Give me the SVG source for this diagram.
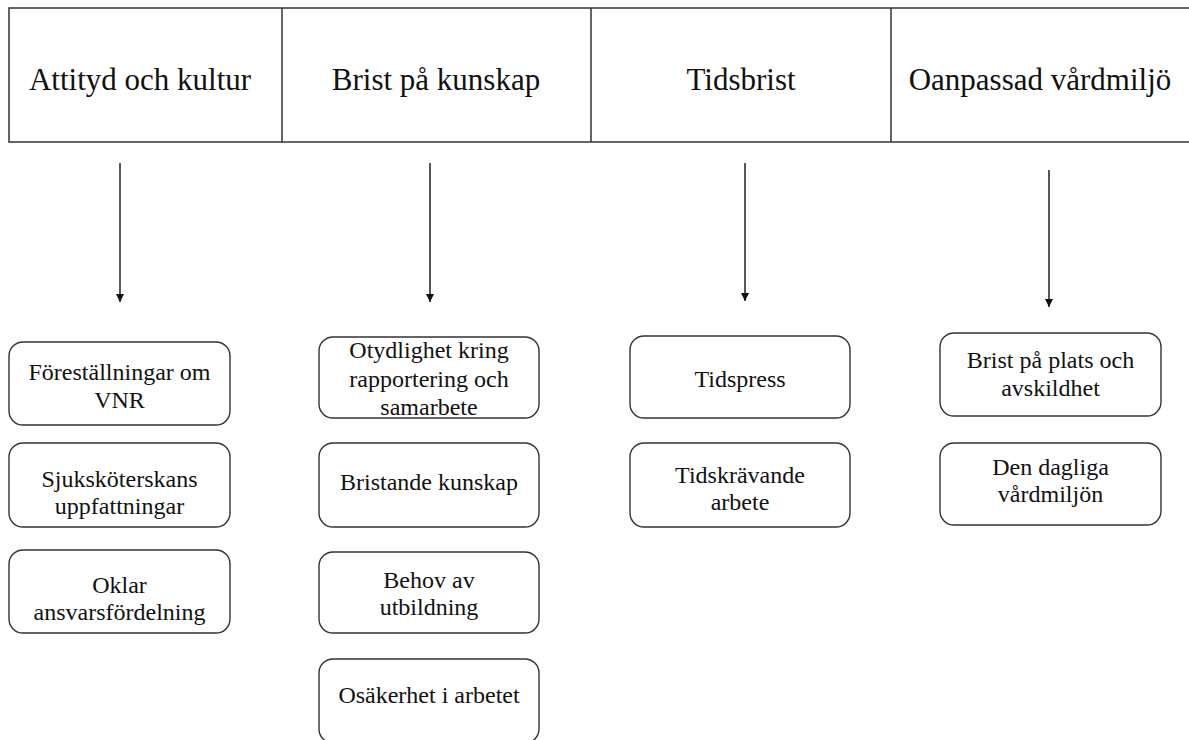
<svg xmlns="http://www.w3.org/2000/svg" width="1189" height="740" viewBox="0 0 1189 740">
<defs>
<style>
.hdr{fill:#fff;stroke:#333;stroke-width:1.5}
.div{stroke:#333;stroke-width:1.5}
.ht{font-family:"Liberation Serif","Times New Roman",serif;font-size:31px;fill:#111;text-anchor:middle}
.box{fill:#fff;stroke:#333;stroke-width:1.4}
.t{font-family:"Liberation Serif","Times New Roman",serif;font-size:24px;fill:#111;text-anchor:middle}
.arr{stroke:#111;stroke-width:1.4;fill:none;marker-end:url(#ah)}
</style>
<marker id="ah" viewBox="0 0 10 10" refX="10" refY="5" markerWidth="10" markerHeight="8" markerUnits="userSpaceOnUse" orient="auto">
<path d="M0,0 L10,5 L0,10 Z" fill="#111"/>
</marker>
</defs>
<rect width="1189" height="740" fill="#fff"/>
<g id="header">
<rect class="hdr" x="9" y="8" width="1190" height="134"/>
<line class="div" x1="282" y1="8" x2="282" y2="142"/>
<line class="div" x1="591" y1="8" x2="591" y2="142"/>
<line class="div" x1="891" y1="8" x2="891" y2="142"/>
</g>
<g id="h1"><text class="ht" x="140" y="90">Attityd och kultur</text></g>
<g id="h2"><text class="ht" x="436" y="90">Brist på kunskap</text></g>
<g id="h3"><text class="ht" x="741" y="90">Tidsbrist</text></g>
<g id="h4"><text class="ht" x="1040" y="90">Oanpassad vårdmiljö</text></g>
<g id="connectors">
<line class="arr" x1="120" y1="163" x2="120" y2="302"/>
<line class="arr" x1="430" y1="163" x2="430" y2="302"/>
<line class="arr" x1="745" y1="163" x2="745" y2="301"/>
<line class="arr" x1="1049" y1="170" x2="1049" y2="307"/>
</g>
<g id="n1"><rect class="box" x="9" y="342" width="221" height="83" rx="14"/><text class="t" x="119.5" y="380">Föreställningar om</text><text class="t" x="119.5" y="408">VNR</text></g>
<g id="n2"><rect class="box" x="9" y="443" width="221" height="84" rx="14"/><text class="t" x="119.5" y="487">Sjuksköterskans</text><text class="t" x="119.5" y="514">uppfattningar</text></g>
<g id="n3"><rect class="box" x="9" y="550" width="221" height="83" rx="14"/><text class="t" x="119.5" y="593">Oklar</text><text class="t" x="119.5" y="620">ansvarsfördelning</text></g>
<g id="n4"><rect class="box" x="319" y="337" width="220" height="81" rx="14"/><text class="t" x="429" y="358">Otydlighet kring</text><text class="t" x="429" y="387">rapportering och</text><text class="t" x="429" y="415">samarbete</text></g>
<g id="n5"><rect class="box" x="319" y="443" width="220" height="84" rx="14"/><text class="t" x="429" y="490">Bristande kunskap</text></g>
<g id="n6"><rect class="box" x="319" y="552" width="220" height="81" rx="14"/><text class="t" x="429" y="588">Behov av</text><text class="t" x="429" y="615">utbildning</text></g>
<g id="n7"><rect class="box" x="319" y="659" width="220" height="84" rx="14"/><text class="t" x="429" y="703">Osäkerhet i arbetet</text></g>
<g id="n8"><rect class="box" x="630" y="336" width="220" height="82" rx="14"/><text class="t" x="740" y="387">Tidspress</text></g>
<g id="n9"><rect class="box" x="630" y="443" width="220" height="84" rx="14"/><text class="t" x="740" y="483">Tidskrävande</text><text class="t" x="740" y="510">arbete</text></g>
<g id="n10"><rect class="box" x="940" y="333" width="221" height="83" rx="14"/><text class="t" x="1050.5" y="368">Brist på plats och</text><text class="t" x="1050.5" y="396">avskildhet</text></g>
<g id="n11"><rect class="box" x="940" y="443" width="221" height="82" rx="14"/><text class="t" x="1050.5" y="475">Den dagliga</text><text class="t" x="1050.5" y="502">vårdmiljön</text></g>
</svg>
